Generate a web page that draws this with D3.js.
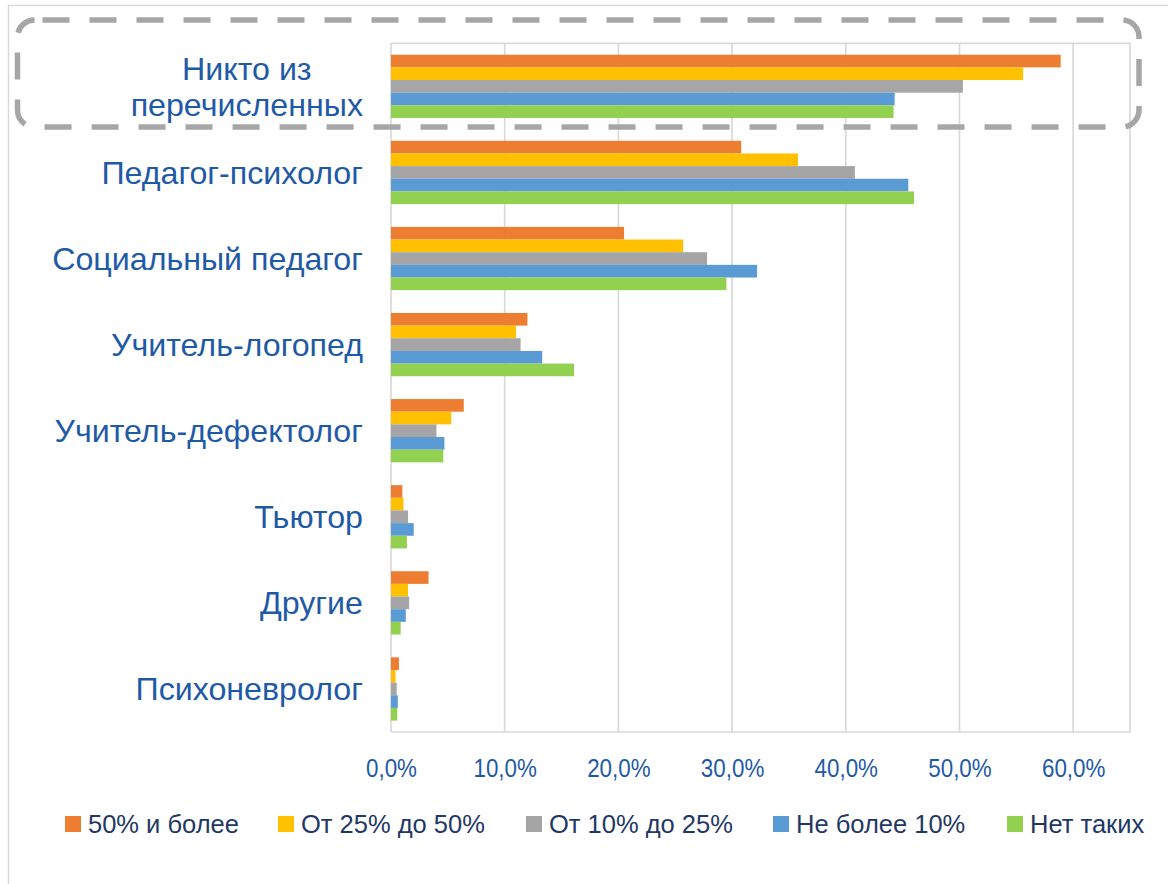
<!DOCTYPE html>
<html>
<head>
<meta charset="utf-8">
<script src="https://cdn.jsdelivr.net/npm/d3@7/dist/d3.min.js"></script>
<style>
  body { margin: 0; background: #fff; }
  svg { display: block; font-family: "Liberation Sans", Arial, sans-serif; }
</style>
</head>
<body>
<svg id="chart" width="1168" height="884"></svg>
<script>
// ---- data ----
const categories = [
  ["Никто из", "перечисленных"],
  ["Педагог-психолог"],
  ["Социальный педагог"],
  ["Учитель-логопед"],
  ["Учитель-дефектолог"],
  ["Тьютор"],
  ["Другие"],
  ["Психоневролог"]
];
const seriesNames = ["50% и более", "От 25% до 50%", "От 10% до 25%", "Не более 10%", "Нет таких"];
const seriesColors = ["#ED7D31", "#FFC000", "#A5A5A5", "#5B9BD5", "#92D050"];
const s50plus   = [58.9, 30.8, 20.5, 12.0, 6.4, 1.0, 3.3, 0.7];
const s25to50   = [55.6, 35.8, 25.7, 11.0, 5.3, 1.1, 1.5, 0.4];
const s10to25   = [50.3, 40.8, 27.8, 11.4, 4.0, 1.5, 1.6, 0.5];
const sUpTo10   = [44.3, 45.5, 32.2, 13.3, 4.7, 2.0, 1.3, 0.6];
const sNone     = [44.2, 46.0, 29.5, 16.1, 4.6, 1.4, 0.85, 0.55];
const seriesValues = [s50plus, s25to50, s10to25, sUpTo10, sNone];
const xTicks = [0, 10, 20, 30, 40, 50, 60];

// ---- layout ----
const svg = d3.select("#chart");
const plot = { left: 391, right: 1130, top: 43.3, bottom: 732 };
const catColor = "#1F5AA6";
const legendColor = "#1F3864";
const gridColor = "#D9D9D9";

// outer chart border
svg.append("path")
  .attr("d", "M8.5,884 L8.5,5.5 L1168,5.5")
  .attr("fill", "none").attr("stroke", gridColor).attr("stroke-width", 1.5);

const x = d3.scaleLinear().domain([0, 65]).range([plot.left, plot.right]);
const y = d3.scaleBand().domain(d3.range(categories.length))
  .range([plot.top, plot.bottom]).paddingInner(0.265).paddingOuter(0.1325);
const ySub = d3.scaleBand().domain(d3.range(seriesNames.length)).range([0, y.bandwidth()]);

// gridlines
svg.append("g").selectAll("line").data(xTicks).join("line")
  .attr("x1", d => x(d)).attr("x2", d => x(d))
  .attr("y1", plot.top).attr("y2", plot.bottom)
  .attr("stroke", gridColor).attr("stroke-width", 1.7);
// plot border (top, right, bottom)
svg.append("path")
  .attr("d", `M${plot.left},${plot.top} L${plot.right},${plot.top} L${plot.right},${plot.bottom} L${plot.left},${plot.bottom}`)
  .attr("fill", "none").attr("stroke", gridColor).attr("stroke-width", 1.7);

// bars
const groups = svg.append("g").selectAll("g").data(categories).join("g")
  .attr("transform", (d, i) => `translate(0,${y(i)})`);
groups.each(function(d, i) {
  d3.select(this).selectAll("rect").data(seriesValues.map(s => s[i])).join("rect")
    .attr("x", x(0))
    .attr("y", (v, j) => ySub(j))
    .attr("width", v => x(v) - x(0))
    .attr("height", ySub.bandwidth())
    .attr("fill", (v, j) => seriesColors[j]);
});

// x axis labels
const xAxis = d3.axisBottom(x).tickValues(xTicks)
  .tickFormat(d => d3.format(".1f")(d).replace(".", ",") + "%").tickSize(0).tickPadding(0);
const gx = svg.append("g").attr("transform", `translate(0,${plot.bottom})`).call(xAxis);
gx.select(".domain").remove();
gx.selectAll("text").attr("y", 45).attr("dy", 0)
  .attr("fill", catColor).style("font-size", "26px")
  .style("font-family", '"Liberation Sans", Arial, sans-serif')
  .each(function() {
    const w = this.getComputedTextLength();
    d3.select(this).attr("textLength", w * 0.86).attr("lengthAdjust", "spacingAndGlyphs");
  });

// category labels
const catFont = 32.2;
const labels = svg.append("g").selectAll("text").data(categories).join("text")
  .attr("fill", catColor).style("font-size", catFont + "px")
  .attr("text-anchor", "middle");
labels.each(function(lines, i) {
  const t = d3.select(this);
  const cy = y(i) + y.bandwidth() / 2;
  const lh = 36;
  lines.forEach((ln, k) => {
    t.append("tspan").text(ln)
      .attr("y", cy + (k - (lines.length - 1) / 2) * lh + catFont * 0.35);
  });
});
// right-align block, center lines within block
labels.each(function() {
  const t = d3.select(this);
  const spans = t.selectAll("tspan").nodes();
  const w = d3.max(spans, s => s.getComputedTextLength());
  spans.forEach(s => d3.select(s).attr("x", 363 - w / 2));
});

// highlight box
svg.append("rect")
  .attr("x", 17.5).attr("y", 20).attr("width", 1139 - 17.5).attr("height", 127 - 20)
  .attr("rx", 17).attr("ry", 17)
  .attr("fill", "none").attr("stroke", "#A6A6A6").attr("stroke-width", 5.5)
  .attr("stroke-dasharray", "27,20").attr("stroke-dashoffset", -8);

// legend
const legendX = [65, 278, 526, 773, 1007];
const leg = svg.append("g").selectAll("g").data(seriesNames).join("g")
  .attr("transform", (d, i) => `translate(${legendX[i]},816)`);
leg.append("rect").attr("width", 16).attr("height", 16).attr("fill", (d, i) => seriesColors[i]);
leg.append("text").attr("x", 23).attr("y", 8).attr("dy", "0.36em")
  .attr("fill", legendColor).style("font-size", "25.5px").text(d => d);
</script>
</body>
</html>
